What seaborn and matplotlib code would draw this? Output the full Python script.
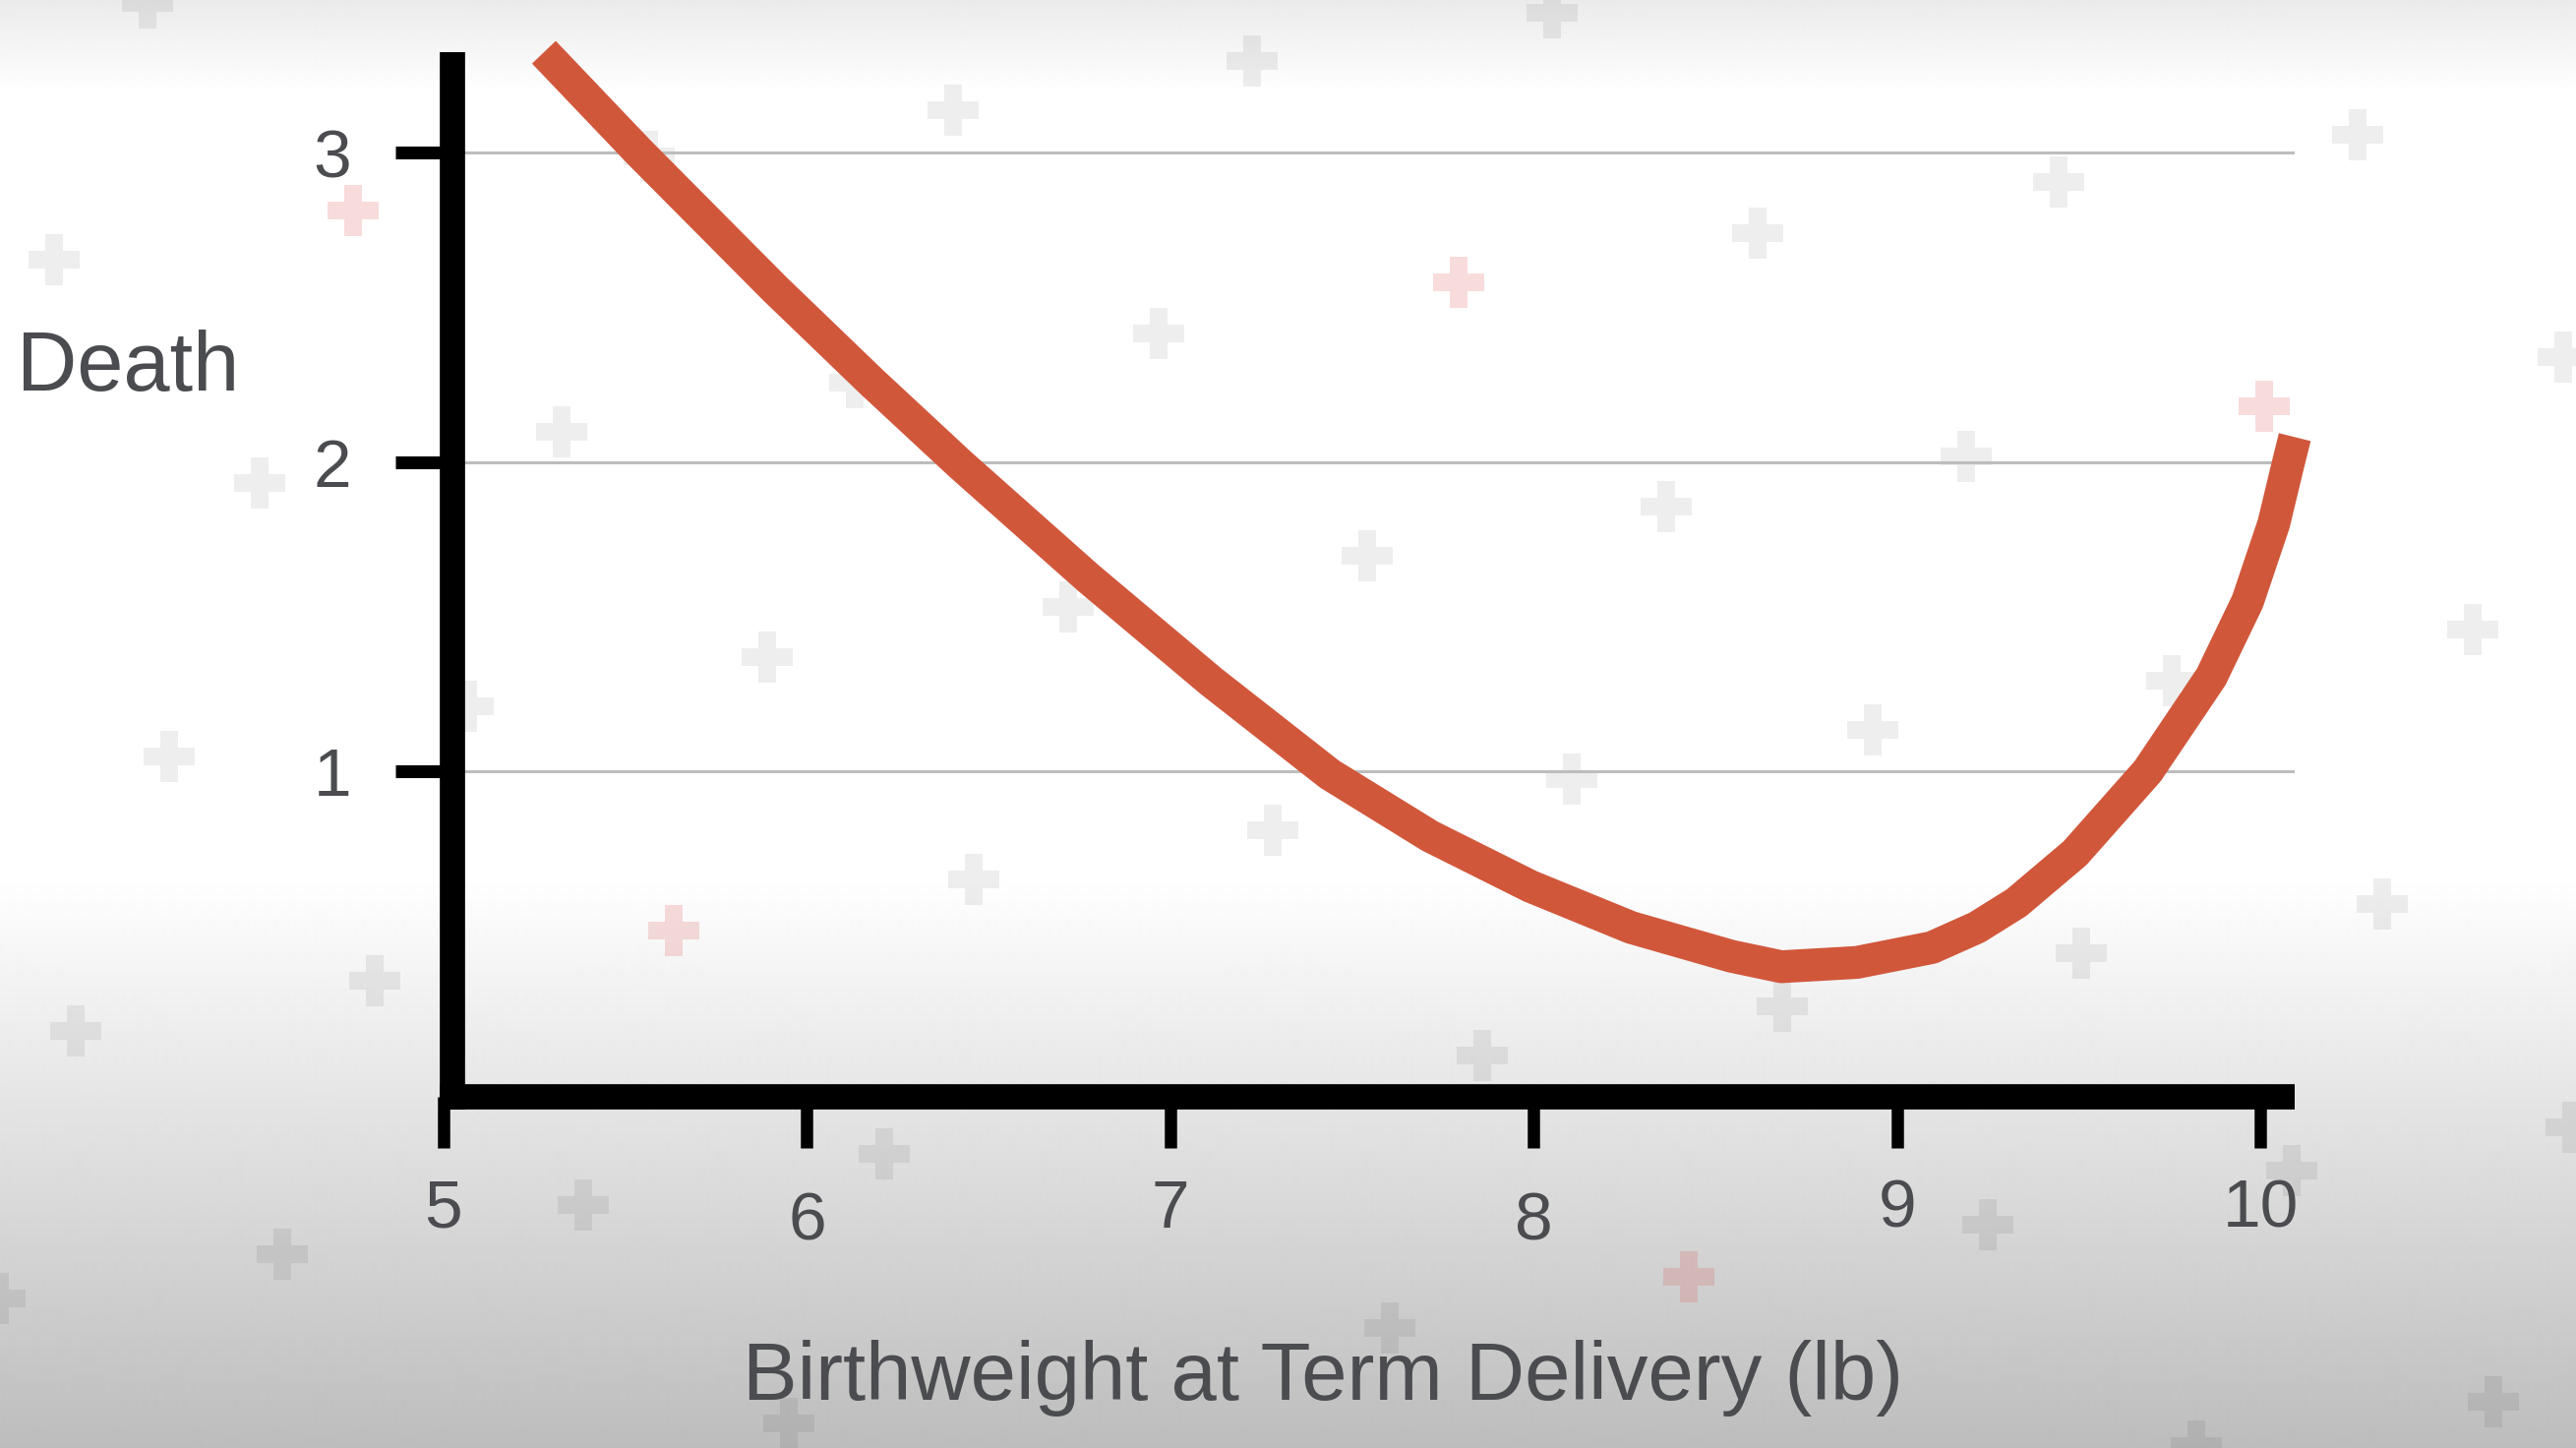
import numpy as np
import pandas as pd
import matplotlib
matplotlib.use("Agg")
import matplotlib.pyplot as plt
import matplotlib.transforms as mtransforms
import seaborn as sns

# ---------------- data ----------------
birthweight_lb = [5.276, 5.539, 5.912, 6.181, 6.423, 6.775, 7.113, 7.439,
                  7.715, 7.991, 8.268, 8.544, 8.682, 8.89, 9.096, 9.22, 9.329,
                  9.49, 9.69, 9.865, 9.965, 10.037, 10.078, 10.095]
death_rate = [3.324, 3.0, 2.559, 2.255, 1.991, 1.624, 1.290, 0.99,
              0.79, 0.628, 0.495, 0.402, 0.368, 0.382, 0.43, 0.495, 0.575,
              0.735, 1.0, 1.305, 1.549, 1.80, 2.0, 2.08]
x_ticks = [5, 6, 7, 8, 9, 10]
x_tick_labels = ["5", "6", "7", "8", "9", "10"]
y_ticks = [1, 2, 3]
y_tick_labels = ["1", "2", "3"]
x_title = "Birthweight at Term Delivery (lb)"
y_title = "Death"

# decorative background plus signs (positions on a 1568x881 grid)
bg_plus_gray = [(90, 2), (945, 8), (762, 37), (580, 67), (1435, 82), (395, 95), (33, 158),
                (1253, 111), (1070, 142), (705, 203), (520, 233), (1197, 278), (342, 263),
                (158, 294), (1014, 308), (832, 338), (650, 369), (467, 400), (285, 430),
                (1505, 383), (1322, 414), (1140, 444), (957, 474), (103, 460), (775, 505),
                (593, 535), (1450, 550), (1267, 580), (1085, 612), (228, 597), (46, 627),
                (902, 642), (538, 702), (355, 733), (1395, 712), (1210, 745), (172, 763),
                (846, 808), (480, 866), (1518, 853), (1337, 880), (1560, 217), (1565, 686),
                (0, 790)]
bg_plus_pink = [(215, 128), (888, 172), (1378, 247), (410, 566), (1028, 777)]

# ---------------- style ----------------
sns.set_style("white")
plt.rcParams["font.family"] = ["Liberation Sans", "DejaVu Sans"]
TEXT = "#4b4c50"
CURVE = "#d1573b"

W, H, DPI = 2619, 1472, 100
fig = plt.figure(figsize=(W / DPI, H / DPI), dpi=DPI)

# background gradient
bg = fig.add_axes([0, 0, 1, 1], zorder=-10)
rows = np.arange(H)
vals = np.ones(H)
top = rows < 95
vals[top] = 0.92 + 0.08 * rows[top] / 95
bot = rows > 890
vals[bot] = 1.0 - 0.26 * (rows[bot] - 890) / (H - 890)
grad = np.repeat(vals[:, None], 4, axis=1)
bg.imshow(grad, cmap="gray", vmin=0, vmax=1, extent=[0, 1, 0, 1], aspect="auto",
          interpolation="bilinear")
gx = [p[0] / 1568 for p in bg_plus_gray]
gy = [1 - p[1] / 881 for p in bg_plus_gray]
px_ = [p[0] / 1568 for p in bg_plus_pink]
py_ = [1 - p[1] / 881 for p in bg_plus_pink]
bg.scatter(gx, gy, marker="P", s=1400, color="black", alpha=0.065, linewidths=0)
bg.scatter(px_, py_, marker="P", s=1400, color="#d9534f", alpha=0.20, linewidths=0)
bg.set_xlim(0, 1)
bg.set_ylim(0, 1)
bg.axis("off")

# main axes
ax = fig.add_axes([0.17052, 0.23376, 0.72032, 0.73016], zorder=1)
ax.patch.set_alpha(0)

df = pd.DataFrame({"weight": birthweight_lb, "death": death_rate})
sns.lineplot(data=df, x="weight", y="death", ax=ax, color=CURVE, linewidth=24,
             estimator=None, sort=True)
for ln in ax.lines:
    ln.set_solid_capstyle("butt")
    ln.set_solid_joinstyle("round")
    ln.set_clip_on(False)
    ln.set_zorder(3)

ax.set_xlim(4.988, 10.095)
ax.set_ylim(-0.0935, 3.324)

ax.set_xticks(x_ticks)
ax.set_xticklabels(x_tick_labels)
ax.set_yticks(y_ticks)
ax.set_yticklabels(y_tick_labels)

ax.yaxis.grid(True, color="#bdbdbd", linewidth=2.2)
ax.xaxis.grid(False)
ax.set_axisbelow(True)

for side in ["top", "right"]:
    ax.spines[side].set_visible(False)
ax.spines["left"].set_position(("data", 5.023))
ax.spines["bottom"].set_position(("data", -0.0525))
for side in ["left", "bottom"]:
    ax.spines[side].set_linewidth(18.5)
    ax.spines[side].set_color("black")
    ax.spines[side].set_capstyle("butt")
    ax.spines[side].set_zorder(4)

ax.tick_params(axis="y", direction="out", length=42, width=9.4, pad=31.7,
               labelsize=50, color="black", labelcolor=TEXT, left=True)
ax.tick_params(axis="x", direction="out", length=37.4, width=9.0, pad=22,
               labelsize=50, color="black", labelcolor=TEXT, bottom=True)
ax.set_xlabel("")
ax.set_ylabel("")

# stagger the 6 and 8 labels slightly lower, as in the reference
for lab in ax.get_xticklabels():
    if lab.get_text() in ("6", "8"):
        lab.set_transform(lab.get_transform() +
                          mtransforms.ScaledTranslation(0, -13 / DPI, fig.dpi_scale_trans))

fig.text(1345 / W, 1 - 1423 / H, x_title, ha="center", va="baseline",
         fontsize=60, color=TEXT)
fig.text(17 / W, 1 - 397.5 / H, y_title, ha="left", va="baseline",
         fontsize=61, color=TEXT)

fig.savefig("out.png", dpi=DPI)
